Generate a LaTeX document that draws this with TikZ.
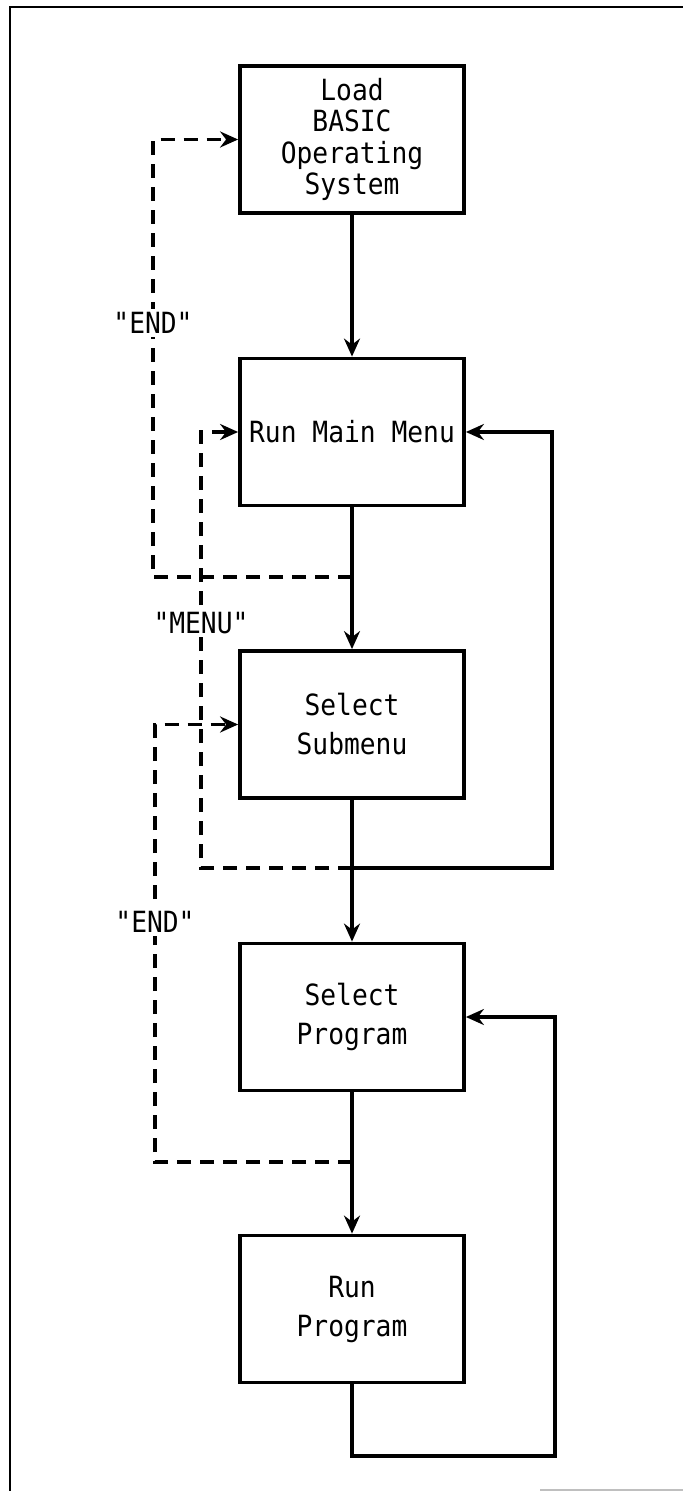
\documentclass[tikz,border=0pt]{standalone}
\usepackage{fontspec}
\newfontfamily\diagfont[FakeStretch=0.9]{DejaVu Sans Mono}
\usetikzlibrary{arrows.meta}
\begin{document}
\begin{tikzpicture}[x=0.5pt,y=-0.5pt,
  tip/.style={-{Stealth[length=9pt,width=8pt,inset=3pt]}},
  box/.style={draw,line width=1.9pt,minimum width=112pt,minimum height=73.5pt,inner sep=0pt,
    align=center,font=\diagfont\fontsize{14.6}{15.7}\selectfont},
  conn/.style={line width=1.6pt,tip},
  dashline/.style={line width=1.6pt,dash pattern=on 7pt off 4.5pt,tip},
  lbl/.style={fill=white,inner sep=1.5pt,font=\diagfont\fontsize{14.6}{15.7}\selectfont}]
\useasboundingbox (0,0) rectangle (683,1491);
\fill[white] (0,0) rectangle (683,1491);
% frame
\draw[line width=1.3pt] (683,7) -- (10,7) -- (10,1491);
\draw[gray!50,line width=0.6pt] (540,1490) -- (683,1490);
% boxes
\node[box] (load) at (352,139.5) {Load\\BASIC\\Operating\\System};
\node[box] (main) at (352,432) {Run Main Menu};
\node[box] (sub) at (352,724.5) {Select\\[3.8pt]Submenu};
\node[box] (prog) at (352,1017) {Select\\[3.8pt]Program};
\node[box] (run) at (352,1309) {Run\\[3.8pt]Program};
% junctions
\coordinate (j1) at (352,577);
\coordinate (j2) at (352,868);
\coordinate (j3) at (352,1162);
\coordinate (e1) at (153,577);
\coordinate (m1) at (201,868);
\coordinate (e2) at (155,1162);
\coordinate (r1) at (552,868);
\coordinate (r2) at (555,1456);
% main flow
\draw[conn] (load) -- (main);
\draw[conn] (main) -- (sub);
\draw[conn] (sub) -- (prog);
\draw[conn] (prog) -- (run);
% solid loops
\draw[conn] (j2) -- (r1) |- (main.east);
\draw[conn] (run.south) |- (r2) |- (prog.east);
% dashed returns
\draw[dashline] (j1) -- (e1) |- (load.west);
\draw[dashline] (j2) -- (m1) |- (main.west);
\draw[dashline] (j3) -- (e2) |- (sub.west);
% labels
\node[lbl] (endA) at (153,323) {"END"};
\node[lbl] (menu) at (201,623) {"MENU"};
\node[lbl] (endB) at (155,922) {"END"};
\end{tikzpicture}
\end{document}
